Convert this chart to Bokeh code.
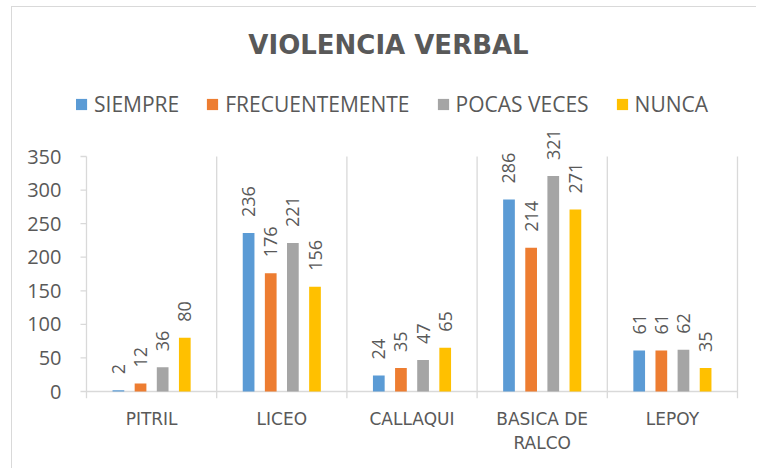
import math
from bokeh.plotting import figure
from bokeh.models import (ColumnDataSource, FactorRange, Range1d, FixedTicker,
                          Legend, LegendItem, Label)
from bokeh.transform import dodge
from bokeh.core.properties import value
from bokeh.embed import file_html
from bokeh.resources import INLINE

# ---- data ----
categories = ["PITRIL", "LICEO", "CALLAQUI", "BASICA DE\nRALCO", "LEPOY"]
series_names = ["SIEMPRE", "FRECUENTEMENTE", "POCAS VECES", "NUNCA"]
siempre = [2, 236, 24, 286, 61]
frecuentemente = [12, 176, 35, 214, 61]
pocas_veces = [36, 221, 47, 321, 62]
nunca = [80, 156, 65, 271, 35]
y_ticks = [0, 50, 100, 150, 200, 250, 300, 350]
title_text = "VIOLENCIA VERBAL"

# ---- style ----
colors = ["#5B9BD5", "#ED7D31", "#A5A5A5", "#FFC000"]
offsets = [-0.255, -0.085, 0.085, 0.255]
TEXT = "#595959"
LINE = "#D9D9D9"

PX_PER_UNIT = 235 / 350.0           # vertical pixels per value unit
Y_LO = -7 / PX_PER_UNIT             # tick marks reach 7px below zero
Y_HI = 384 / PX_PER_UNIT            # frame reaches top of the chart
Y_MAX = y_ticks[-1]
CAT_PX = 130.2
CAT_PAD = 10 / CAT_PX               # 10px of padding either side
TICK = 6 / CAT_PX                   # y tick mark length

cols = ["siempre", "frecuentemente", "pocas_veces", "nunca"]
data = dict(cat=categories, siempre=siempre, frecuentemente=frecuentemente,
            pocas_veces=pocas_veces, nunca=nunca)
for c in cols:
    data[c + "_lbl"] = [str(v) for v in data[c]]
src = ColumnDataSource(data)

p = figure(width=745, height=462,
           x_range=FactorRange(factors=categories, range_padding=CAT_PAD,
                               range_padding_units="absolute"),
           y_range=Range1d(Y_LO, Y_HI),
           output_backend="svg", toolbar_location=None,
           min_border_left=64, min_border_right=10,
           min_border_top=0, min_border_bottom=71,
           outline_line_color=None)
p.styles = {"margin-left": "11px", "margin-top": "6px",
            "border-left": "1px solid #D9D9D9", "border-top": "1px solid #D9D9D9"}

p.xgrid.grid_line_color = None
p.ygrid.grid_line_color = None

# category separators (first one is the value axis line), zero line, y ticks
bounds = list(range(len(categories) + 1))
p.segment(x0=bounds, y0=[Y_LO] * len(bounds), x1=bounds, y1=[Y_MAX] * len(bounds),
          line_color=LINE, line_width=1.3)
p.segment(x0=[0], y0=[0], x1=[len(categories)], y1=[0],
          line_color=LINE, line_width=1.3)
p.segment(x0=[-TICK] * len(y_ticks), y0=y_ticks, x1=[0] * len(y_ticks), y1=y_ticks,
          line_color=LINE, line_width=1.3)

# x axis (labels only)
p.xaxis.axis_line_color = None
p.xaxis.major_tick_line_color = None
p.xaxis.minor_tick_line_color = None
p.xaxis.major_label_text_font = "DejaVu Sans"
p.xaxis.major_label_text_font_size = "17px"
p.xaxis.major_label_text_color = TEXT
p.xaxis.major_label_standoff = 4

# y axis (labels only; line and ticks drawn above)
p.yaxis.ticker = FixedTicker(ticks=y_ticks)
p.yaxis.axis_line_color = None
p.yaxis.major_tick_line_color = None
p.yaxis.minor_tick_line_color = None
p.yaxis.major_tick_in = 0
p.yaxis.major_tick_out = 0
p.yaxis.major_label_text_font = "Open Sans"
p.yaxis.major_label_text_font_size = "20px"
p.yaxis.major_label_text_color = TEXT
p.yaxis.major_label_standoff = 15

items = []
for name, col, color, off in zip(series_names, cols, colors, offsets):
    xs = dodge("cat", off, range=p.x_range)
    r = p.vbar(x=xs, top=col, width=0.09, source=src,
               fill_color=color, line_color=None)
    p.text(x=xs, y=col, text=col + "_lbl", source=src,
           angle=math.pi / 2, text_align="left", text_baseline="middle",
           y_offset=-16, text_font=value("Open Sans"), text_font_size="18px",
           text_color=TEXT)
    items.append(LegendItem(label=name, renderers=[r]))

legend = Legend(items=items, orientation="horizontal", location=(-2, 280),
                glyph_width=14, glyph_height=14, label_standoff=6, spacing=26,
                padding=0, margin=0, border_line_color=None,
                background_fill_alpha=0,
                label_text_font="Open Sans", label_text_font_size="21px",
                label_text_color=TEXT)
p.add_layout(legend, "center")

p.add_layout(Label(x=312, y=354, x_units="screen", y_units="screen",
                   text=title_text, text_align="center",
                   text_baseline="alphabetic", text_font="DejaVu Sans",
                   text_font_style="bold", text_font_size="26px",
                   text_color=TEXT))

open("out.html", "w").write(file_html(p, INLINE))
